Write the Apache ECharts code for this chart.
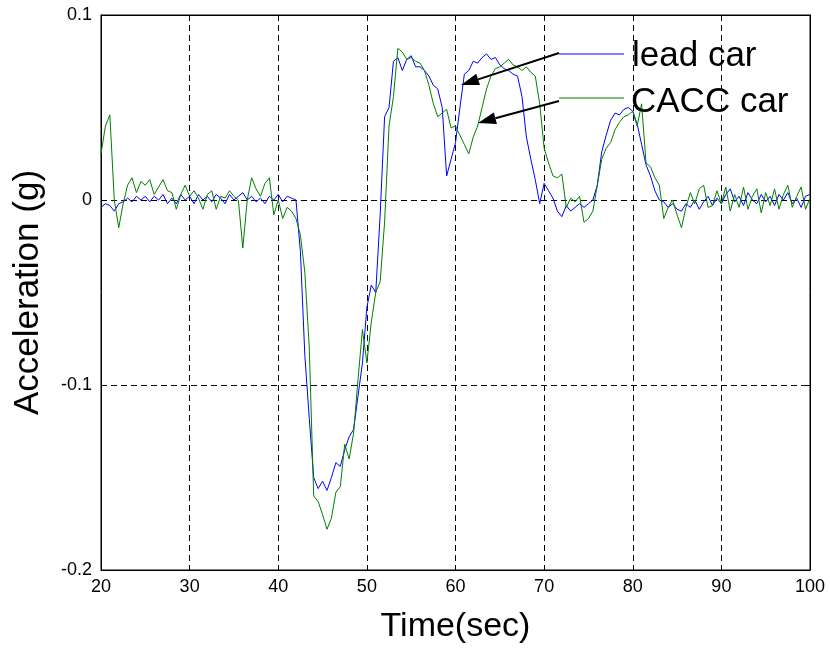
<!DOCTYPE html>
<html><head><meta charset="utf-8">
<script src="https://cdn.jsdelivr.net/npm/echarts@6/dist/echarts.min.js"></script>
<style>html,body{margin:0;padding:0;background:#fff}#c{width:830px;height:649px}</style>
</head><body><div id="c"></div>
<script>
// sampling grid of the recorded traces (seconds)
const timeStart = 20;
const timeStep = 0.5;
const xTicks = [20, 30, 40, 50, 60, 70, 80, 90, 100];
const yTicks = [-0.2, -0.1, 0, 0.1];
const seriesNames = ['lead car', 'CACC car'];

// acceleration (g), one value every 0.5 s from 20 s to 100 s
const leadAcc = [
 -0.004,-0.002,-0.003,-0.006,-0.002,-0.001,0.001,-0.001,0.002,0.000,
 0.002,-0.001,0.002,0.000,0.003,-0.002,0.001,-0.002,0.003,0.000,
 0.002,-0.002,0.003,0.000,0.002,-0.001,0.003,0.001,-0.002,0.003,
 0.000,0.002,0.004,0.000,0.002,-0.001,0.001,-0.002,0.002,0.000,
 0.003,-0.001,0.002,0.001,0.000,-0.028,-0.084,-0.118,-0.150,-0.156,
 -0.152,-0.157,-0.150,-0.142,-0.144,-0.135,-0.128,-0.124,-0.106,-0.088,
 -0.058,-0.046,-0.050,-0.008,0.045,0.050,0.075,0.077,0.070,0.076,
 0.078,0.072,0.072,0.070,0.067,0.062,0.060,0.050,0.013,0.022,
 0.031,0.050,0.068,0.070,0.075,0.074,0.077,0.079,0.076,0.077,
 0.073,0.071,0.070,0.068,0.067,0.056,0.034,0.022,0.011,-0.002,
 0.009,0.005,0.001,-0.006,-0.009,-0.003,-0.006,-0.004,-0.002,-0.004,
 -0.002,0.000,0.008,0.026,0.035,0.043,0.047,0.046,0.049,0.050,
 0.048,0.041,0.030,0.019,0.013,0.005,0.000,-0.001,-0.004,-0.002,
 -0.005,-0.006,-0.002,-0.004,0.000,-0.005,-0.001,0.002,-0.003,0.001,
 -0.002,0.003,0.006,-0.001,0.002,-0.003,0.004,0.000,-0.002,0.003,
 -0.001,0.002,-0.003,0.003,0.000,0.004,-0.002,0.001,-0.004,0.002,
 0.003
];
const caccAcc = [
 0.025,0.040,0.046,0.000,-0.015,-0.002,0.008,0.012,0.004,0.010,
 0.008,0.011,0.003,0.007,0.011,0.005,0.004,-0.005,0.003,0.008,
 0.002,0.005,0.001,-0.005,0.003,0.005,-0.005,0.002,0.001,0.005,
 0.002,0.000,-0.026,0.000,0.012,0.006,0.002,0.009,0.012,-0.008,
 0.000,-0.010,-0.004,-0.006,-0.010,-0.019,-0.039,-0.080,-0.160,-0.163,
 -0.170,-0.178,-0.172,-0.158,-0.155,-0.132,-0.140,-0.126,-0.097,-0.070,
 -0.088,-0.066,-0.050,-0.044,-0.012,0.040,0.056,0.082,0.080,0.076,
 0.077,0.075,0.074,0.070,0.062,0.052,0.045,0.047,0.049,0.039,
 0.040,0.035,0.030,0.025,0.034,0.040,0.050,0.060,0.067,0.071,
 0.072,0.074,0.076,0.073,0.072,0.070,0.072,0.069,0.067,0.052,
 0.028,0.020,0.013,0.012,0.014,-0.004,0.001,-0.001,0.002,-0.012,
 -0.010,-0.006,0.008,0.022,0.028,0.031,0.038,0.042,0.045,0.046,
 0.048,0.040,0.052,0.020,0.018,0.012,0.008,-0.010,-0.004,0.000,
 -0.008,-0.015,-0.004,0.004,-0.002,0.006,0.008,-0.004,-0.003,0.005,
 -0.002,0.007,-0.006,0.003,-0.004,0.007,-0.005,0.002,0.006,-0.007,
 0.004,-0.003,0.006,-0.005,0.003,0.008,-0.004,0.002,0.007,-0.005,
 0.001
];

const pairs = arr => arr.map((v, i) => [timeStart + i * timeStep, v]);
const FONT = '"Liberation Sans", Arial, Helvetica, sans-serif';

function arrow(x1, y1, x2, y2, len, half) {
  const dx = x2 - x1, dy = y2 - y1, L = Math.hypot(dx, dy);
  const ux = dx / L, uy = dy / L;
  const bx = x2 - ux * len, by = y2 - uy * len;
  const nx = -uy * half, ny = ux * half;
  return [
    { type: 'line', shape: { x1: x1, y1: y1, x2: bx, y2: by }, style: { stroke: '#000', lineWidth: 2 }, z: 100 },
    { type: 'polygon', shape: { points: [[x2, y2], [bx + nx, by + ny], [bx - nx, by - ny]] }, style: { fill: '#000' }, z: 100 }
  ];
}

const chart = echarts.init(document.getElementById('c'), null, { renderer: 'canvas' });
const axisCommon = {
  axisLine: { show: true, onZero: false, lineStyle: { color: '#000', width: 1 } },
  axisTick: { show: true, inside: true, length: 5, lineStyle: { color: '#000' } }
};
chart.setOption({
  animation: false,
  backgroundColor: '#fff',
  grid: { left: 101, right: 20, top: 15, bottom: 76, show: true, borderColor: '#000', borderWidth: 1 },
  xAxis: [{
    type: 'value', min: 20, max: 100, interval: 10,
    name: 'Time(sec)', nameLocation: 'middle', nameGap: 40,
    nameTextStyle: { fontFamily: FONT, fontSize: 34, color: '#000' },
    axisLabel: { fontFamily: FONT, fontSize: 18, color: '#000', margin: 8,
      formatter: v => xTicks.includes(v) ? String(v) : '' },
    splitLine: { show: true, lineStyle: { color: '#000', type: [6, 4], width: 1 } },
    ...axisCommon
  }, {
    type: 'value', position: 'top', min: 20, max: 100, interval: 10,
    axisLabel: { show: false }, splitLine: { show: false }, ...axisCommon
  }],
  yAxis: [{
    type: 'value', min: -0.2, max: 0.1, interval: 0.1,
    name: 'Acceleration (g)', nameLocation: 'middle', nameGap: 55,
    nameTextStyle: { fontFamily: FONT, fontSize: 35, color: '#000' },
    axisLabel: { fontFamily: FONT, fontSize: 18, color: '#000', margin: 9,
      formatter: v => { const t = yTicks.find(k => Math.abs(k - v) < 1e-9); return t === undefined ? '' : (t === 0 ? '0' : String(t)); } },
    splitLine: { show: true, lineStyle: { color: '#000', type: [6, 4], width: 1 } },
    ...axisCommon
  }, {
    type: 'value', position: 'right', min: -0.2, max: 0.1, interval: 0.1,
    axisLabel: { show: false }, splitLine: { show: false }, ...axisCommon
  }],
  series: [
    { name: seriesNames[0], type: 'line', data: pairs(leadAcc), showSymbol: false,
      lineStyle: { color: '#0000ff', width: 1 }, itemStyle: { color: '#0000ff' }, z: 3 },
    { name: seriesNames[1], type: 'line', data: pairs(caccAcc), showSymbol: false,
      lineStyle: { color: '#008000', width: 1 }, itemStyle: { color: '#008000' }, z: 4 }
  ],
  graphic: [
    { type: 'line', shape: { x1: 559, y1: 54, x2: 624, y2: 54 }, style: { stroke: '#0000ff', lineWidth: 1 }, z: 100 },
    { type: 'line', shape: { x1: 559, y1: 98, x2: 624, y2: 98 }, style: { stroke: '#008000', lineWidth: 1 }, z: 100 },
    { type: 'text', x: 632, y: 56, style: { text: seriesNames[0], font: '35px ' + FONT, fill: '#000', verticalAlign: 'middle' }, z: 100 },
    { type: 'text', x: 631, y: 102, style: { text: seriesNames[1], font: '35px ' + FONT, fill: '#000', verticalAlign: 'middle' }, z: 100 },
    ...arrow(559, 53, 461, 85, 18, 6),
    ...arrow(559, 101, 478, 123, 18, 6)
  ]
});
</script>
</body></html>
